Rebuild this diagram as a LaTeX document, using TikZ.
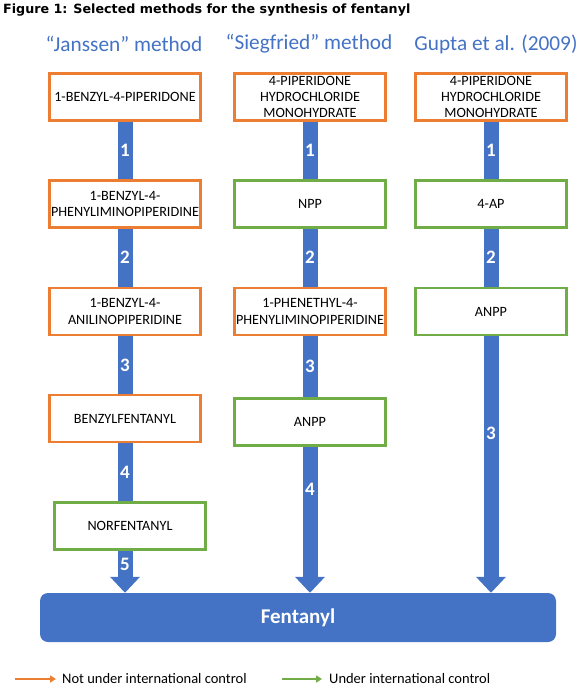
\documentclass[tikz,border=0pt]{standalone}
\usepackage{fontspec}
\setmainfont{Carlito}
\newfontfamily\titlefont{DejaVu Sans}
\usetikzlibrary{arrows.meta,backgrounds}
\definecolor{flowblue}{HTML}{4472C4}
\definecolor{freeorange}{HTML}{ED7D31}
\definecolor{ctrlgreen}{HTML}{70AD47}
\begin{document}
\begin{tikzpicture}[x=1pt,y=-1pt,>={Triangle[width=29pt,length=16pt]}]
  \tikzstyle{free}=[draw=freeorange,fill=white,line width=2.5pt,align=center,inner sep=1pt,
    minimum width=151pt,minimum height=47pt,font=\fontsize{14.2}{16.2}\selectfont]
  \tikzstyle{listed}=[free,draw=ctrlgreen]
  \tikzstyle{route}=[draw=flowblue,line width=15pt]
  \tikzstyle{stepno}=[text=white,inner sep=0pt,font=\bfseries\fontsize{19}{19}\selectfont]
  \tikzstyle{method}=[text=flowblue,font=\fontsize{21.3}{25}\selectfont]
  \tikzstyle{legend}=[anchor=west,inner sep=0pt,font=\fontsize{14.5}{16}\selectfont]
  \def\xa{125}	% Janssen column
  \def\xb{310}	% Siegfried column
  \def\xc{491}	% Gupta column
  \useasboundingbox (0,0) rectangle (585,694);
  \node[anchor=west,inner sep=0pt,font=\titlefont\bfseries\fontsize{12.7}{14}\selectfont] (title) at (3,10)
    {Figure 1: Selected methods for the synthesis of fentanyl};
  \node[method] (hj) at (124,44) {“Janssen” method};
  \node[method] (hs) at (309,44) {“Siegfried” method};
  \node[method] (hg) at (496,44) {Gupta et al. (2009)};
  % Janssen
  \node[free] (j1) at (\xa,97) {1-BENZYL-4-PIPERIDONE};
  \node[free] (j2) at (\xa,204) {1-BENZYL-4-\\PHENYLIMINOPIPERIDINE};
  \node[free] (j3) at (\xa,311.5) {1-BENZYL-4-\\ANILINOPIPERIDINE};
  \node[free] (j4) at (\xa,418.5) {BENZYLFENTANYL};
  \node[listed] (j5) at (130,526) {NORFENTANYL};
  % Siegfried
  \node[free] (s1) at (\xb,97) {4-PIPERIDONE\\HYDROCHLORIDE\\MONOHYDRATE};
  \node[listed] (s2) at (\xb,204) {NPP};
  \node[free] (s3) at (\xb,311.5) {1-PHENETHYL-4-\\PHENYLIMINOPIPERIDINE};
  \node[listed] (s4) at (\xb,422) {ANPP};
  % Gupta
  \node[free] (g1) at (\xc,97) {4-PIPERIDONE\\HYDROCHLORIDE\\MONOHYDRATE};
  \node[listed] (g2) at (\xc,204) {4-AP};
  \node[listed] (g3) at (\xc,311.5) {ANPP};
  \node[fill=flowblue,rounded corners=8pt,minimum width=516pt,minimum height=49pt,text=white,
    font=\bfseries\fontsize{21}{24}\selectfont] (fent) at (298,617.5) {Fentanyl};
  \begin{pgfonlayer}{background}
    \draw[route] (j1) -- node[stepno]{1} (j2);
    \draw[route] (j2) -- node[stepno]{2} (j3);
    \draw[route] (j3) -- node[stepno]{3} (j4);
    \draw[route] (j4.south) -- node[stepno]{4} (j4.south |- j5.north);
    \draw[route,->] (j5.south -| j4.south) -- node[stepno,pos=.33]{5} (fent.north -| j4.south);
    \draw[route] (s1) -- node[stepno]{1} (s2);
    \draw[route] (s2) -- node[stepno]{2} (s3);
    \draw[route] (s3) -- node[stepno]{3} (s4);
    \draw[route,->] (s4) -- node[stepno,pos=.29]{4} (fent.north -| s4);
    \draw[route] (g1) -- node[stepno]{1} (g2);
    \draw[route] (g2) -- node[stepno]{2} (g3);
    \draw[route,->] (g3) -- node[stepno,pos=.38]{3} (fent.north -| g3);
  \end{pgfonlayer}
  % key
  \node[legend] (notkey) at (62,679) {Not under international control};
  \node[legend] (ctrlkey) at (329,679) {Under international control};
  \coordinate (notfrom) at (15,679);
  \coordinate (ctrlfrom) at (282,679);
  \draw[freeorange,line width=2pt,-{Triangle[width=7pt,length=6pt]}] (notfrom) -- ([xshift=-6pt]notkey.west);
  \draw[ctrlgreen,line width=2pt,-{Triangle[width=7pt,length=6pt]}] (ctrlfrom) -- ([xshift=-7pt]ctrlkey.west);
\end{tikzpicture}
\end{document}
